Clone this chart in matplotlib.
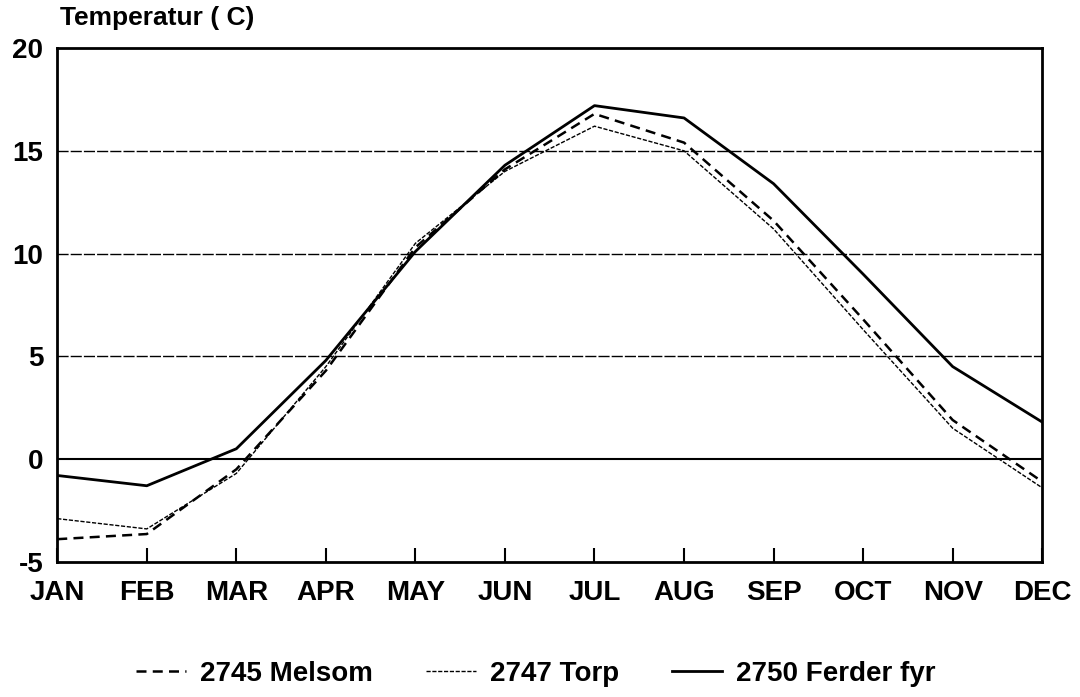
import numpy as np
import matplotlib
matplotlib.use("Agg")
import matplotlib.pyplot as plt

plt.rcParams['font.family'] = ['Liberation Sans', 'DejaVu Sans']
plt.rcParams['font.weight'] = 'bold'
plt.rcParams['axes.unicode_minus'] = False

months = ["JAN", "FEB", "MAR", "APR", "MAY", "JUN",
          "JUL", "AUG", "SEP", "OCT", "NOV", "DEC"]
melsom = [-3.9, -3.65, -0.5, 4.3, 10.3, 14.1, 16.8, 15.4, 11.6, 6.8, 1.9, -1.1]
torp = [-2.9, -3.4, -0.7, 4.5, 10.5, 14.0, 16.2, 15.0, 11.2, 6.3, 1.5, -1.4]
ferder = [-0.8, -1.3, 0.5, 4.8, 10.1, 14.3, 17.2, 16.6, 13.4, 9.0, 4.5, 1.8]
yticks = [-5, 0, 5, 10, 15, 20]

fig = plt.figure(figsize=(10.8, 6.97), dpi=100)
ax = fig.add_axes([0.053, 0.194, 0.912, 0.737])
x = np.arange(len(months))

# horizontal reference lines
for v in [5, 10, 15]:
    ax.axhline(v, color="black", lw=1.0, ls=(0, (8, 1.5)), zorder=1)
ax.axhline(0, color="black", lw=1.5, zorder=1)

ax.plot(x, melsom, color="black", lw=1.8, ls=(0, (4, 2.5)), label="2745 Melsom", zorder=3)
ax.plot(x, torp, color="black", lw=1.0, ls=(0, (3, 1.2)), label="2747 Torp", zorder=3)
ax.plot(x, ferder, color="black", lw=2.0, ls="-", label="2750 Ferder fyr", zorder=4)

ax.set_xlim(0, 11)
ax.set_ylim(-5, 20)
ax.set_xticks(x)
ax.set_xticklabels(months)
ax.set_yticks(yticks)
ax.tick_params(axis="x", direction="in", length=10, width=1.5, labelsize=20, pad=13)
ax.tick_params(axis="y", length=0, labelsize=20, pad=10)
for s in ax.spines.values():
    s.set_linewidth(2)

fig.text(0.056, 0.974, "Temperatur ( C)", fontsize=19, fontweight="bold", va="center")

fig.legend(loc="center", bbox_to_anchor=(0.496, 0.033), ncol=3, frameon=False,
           fontsize=20, handlelength=1.8, columnspacing=1.9, handletextpad=0.5)

fig.savefig("out.png", dpi=100)
